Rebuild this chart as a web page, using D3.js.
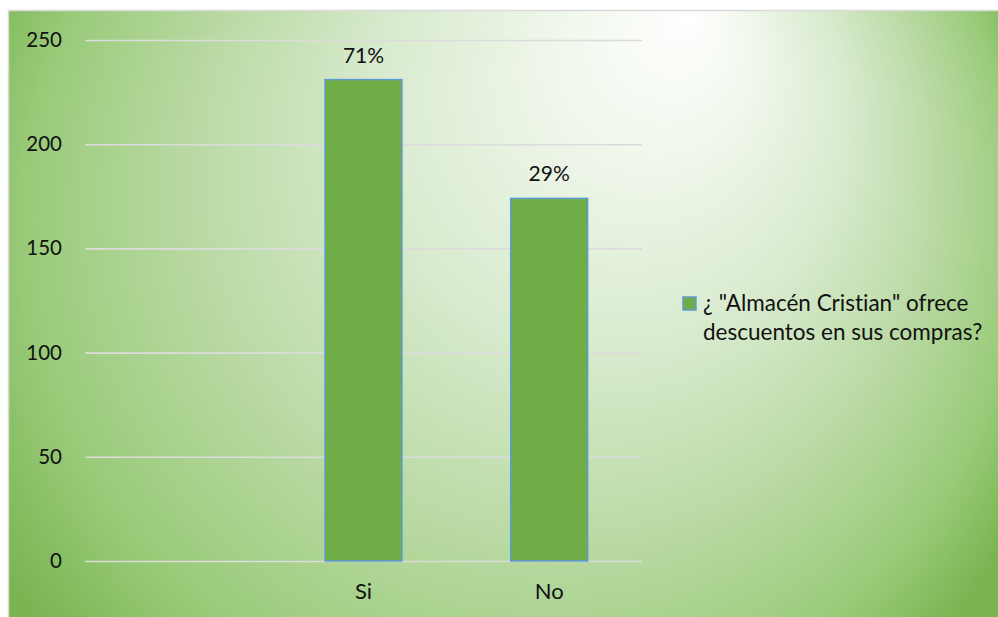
<!DOCTYPE html>
<html>
<head>
<meta charset="utf-8">
<script src="https://cdn.jsdelivr.net/npm/d3@7"></script>
<style>
  html, body { margin: 0; padding: 0; background: #ffffff; }
  svg { display: block; font-family: Lato, "Open Sans", sans-serif; }
  svg text { font-variant-ligatures: none; font-feature-settings: "liga" 0, "clig" 0; }
</style>
</head>
<body>
<svg id="chart" width="998" height="617"></svg>
<script>
// Survey answers: does "Almacén Cristian" offer discounts?
const categories = ["", "Si", "No"];
const counts = [null, 231, 174];
const percentLabels = ["", "71%", "29%"];
const yTicks = [0, 50, 100, 150, 200, 250];
const seriesName = ["¿ \"Almacén Cristian\" ofrece", "descuentos en sus compras?"];

const svg = d3.select("#chart");
const W = 998, H = 617;

// Soft green backdrop, light toward the upper right
const defs = svg.append("defs");
const grad = defs.append("radialGradient")
  .attr("id", "bg")
  .attr("gradientUnits", "userSpaceOnUse")
  .attr("cx", 495).attr("cy", 261).attr("r", 581)
  .attr("fx", 690).attr("fy", 14);
[
  [0, "#ffffff"],
  [0.15, "#f2f8ee"],
  [0.4, "#d9ebcf"],
  [0.65, "#b8d9a2"],
  [0.85, "#9acb7a"],
  [1, "#7ab552"]
].forEach(([o, c]) => grad.append("stop").attr("offset", o).attr("stop-color", c));

svg.append("rect")
  .attr("x", 8).attr("y", 10).attr("width", W - 8).attr("height", H - 10)
  .attr("fill", "url(#bg)");
svg.append("path")
  .attr("d", `M8.5,${H}V10.5H${W}`)
  .attr("fill", "none").attr("stroke", "#d9d9d9").attr("stroke-width", 1.5);

const plot = { left: 85, right: 642, top: 40, bottom: 561 };

const y = d3.scaleLinear().domain([0, 250]).range([plot.bottom, plot.top]);
const x = d3.scaleBand().domain(categories).range([plot.left, plot.right]).padding(0);
const barW = x.bandwidth() * 0.414;

// Gridlines
svg.append("g")
  .attr("transform", `translate(${plot.left},0)`)
  .call(d3.axisLeft(y).tickValues(yTicks).tickSize(-(plot.right - plot.left)).tickFormat(""))
  .call(g => g.select(".domain").remove())
  .call(g => g.selectAll("line").attr("stroke", "#dcdcdc").attr("stroke-width", 1.6));

// Y tick labels
svg.append("g")
  .attr("transform", `translate(62,0)`)
  .call(d3.axisLeft(y).tickValues(yTicks).tickSize(0).tickPadding(0))
  .call(g => g.select(".domain").remove())
  .call(g => g.selectAll("text")
    .attr("font-family", "Lato, sans-serif")
    .attr("font-size", 20.5).attr("fill", "#111").attr("text-anchor", "end"));

// Bars
const data = categories.map((c, i) => ({ c, v: counts[i], label: percentLabels[i] }))
  .filter(d => d.v != null);

svg.append("g").selectAll("rect").data(data).join("rect")
  .attr("x", d => x(d.c) + (x.bandwidth() - barW) / 2)
  .attr("y", d => y(d.v))
  .attr("width", barW)
  .attr("height", d => y(0) - y(d.v))
  .attr("fill", "#70ad47")
  .attr("stroke", "#5b9bd5")
  .attr("stroke-width", 1.5);

// Percentage labels above bars
svg.append("g").selectAll("text").data(data).join("text")
  .attr("x", d => x(d.c) + x.bandwidth() / 2)
  .attr("y", d => y(d.v) - 17)
  .attr("text-anchor", "middle")
  .attr("font-size", 21).attr("fill", "#111")
  .text(d => d.label);

// Category axis labels
svg.append("g")
  .attr("transform", `translate(0,${plot.bottom})`)
  .call(d3.axisBottom(x).tickSize(0).tickPadding(22))
  .call(g => g.select(".domain").remove())
  .call(g => g.selectAll("text")
    .attr("font-family", "Lato, sans-serif")
    .attr("font-size", 22).attr("fill", "#111"));

// Legend
const lg = svg.append("g").attr("transform", "translate(683,297)");
lg.append("rect").attr("width", 13).attr("height", 13)
  .attr("fill", "#70ad47").attr("stroke", "#5b9bd5").attr("stroke-width", 1.5);
lg.append("text")
  .attr("x", 20).attr("y", 14)
  .attr("font-size", 22.5).attr("fill", "#111")
  .selectAll("tspan").data(seriesName).join("tspan")
  .attr("x", 20).attr("dy", (d, i) => i === 0 ? 0 : 29)
  .text(d => d);
</script>
</body>
</html>
